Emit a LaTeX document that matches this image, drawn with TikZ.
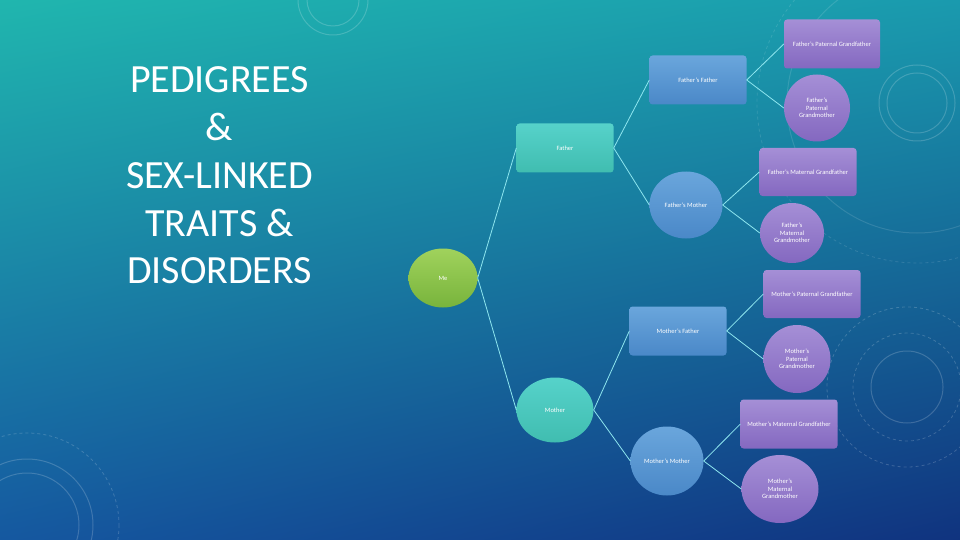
\documentclass[tikz,border=0pt]{standalone}
\usepackage{fontspec}
\setmainfont{Carlito}
\usetikzlibrary{shapes.geometric,shadings}
\definecolor{bgUL}{HTML}{20B6AE}
\definecolor{bgUR}{HTML}{1A9AAE}
\definecolor{bgLL}{HTML}{1558A0}
\definecolor{bgLR}{HTML}{10337F}
\definecolor{pTop}{HTML}{A58FD6}
\definecolor{pBot}{HTML}{8468C0}
\definecolor{bTop}{HTML}{6AA6DC}
\definecolor{bBot}{HTML}{4A88C8}
\definecolor{tTop}{HTML}{56D2CA}
\definecolor{tBot}{HTML}{40BDB0}
\definecolor{gTop}{HTML}{A0D25C}
\definecolor{gBot}{HTML}{78B43C}
\definecolor{linkc}{HTML}{8EE6EF}
\tikzset{
  lbl/.style={text=white, font=\fontsize{6.5}{7.7}\selectfont, align=center, inner sep=0pt},
  boxnode/.style={lbl, rectangle, rounded corners=3pt, minimum width=97pt, minimum height=49pt},
  ellnode/.style={lbl, ellipse},
  purplefill/.style={top color=pTop, bottom color=pBot},
  bluefill/.style={top color=bTop, bottom color=bBot},
  tealfill/.style={top color=tTop, bottom color=tBot},
  greenfill/.style={top color=gTop, bottom color=gBot},
  link/.style={draw=linkc, line width=0.8pt},
  titleline/.style={text=white, font=\fontsize{40}{47.5}\selectfont, anchor=base, inner sep=0pt},
  deco/.style={draw=white, opacity=0.18, line width=1pt},
  decodash/.style={draw=white, opacity=0.18, line width=0.8pt, dash pattern=on 3pt off 3pt}
}
\begin{document}
\begin{tikzpicture}[x=1pt,y=-1pt]
\useasboundingbox (0,0) rectangle (960,540);
\shade[upper left=bgUL, upper right=bgUR, lower left=bgLL, lower right=bgLR] (0,0) rectangle (960,540);
% faint background decorations
\begin{scope}
\clip (0,0) rectangle (960,540);
\draw[deco] (917,103) circle[radius=30];
\draw[deco] (917,103) circle[radius=38];
\draw[deco, opacity=0.12] (917,103) circle[radius=130];
\draw[decodash, opacity=0.12] (917,103) circle[radius=160];
\draw[deco] (907,387) circle[radius=36];
\draw[decodash] (907,387) circle[radius=54];
\draw[decodash] (907,387) circle[radius=80];
\draw[deco] (27,525) circle[radius=52];
\draw[deco] (27,525) circle[radius=66];
\draw[decodash] (27,525) circle[radius=92];
\draw[deco] (333,0) circle[radius=26];
\draw[deco] (333,0) circle[radius=35];
\end{scope}
% title
\node[titleline] (t1) at (219.5,93) {PEDIGREES};
\node[titleline] (t2) at (219.5,141) {\&};
\node[titleline] (t3) at (219.5,188) {SEX-LINKED};
\node[titleline] (t4) at (219.5,236) {TRAITS \&};
\node[titleline] (t5) at (219.5,283) {DISORDERS};
% nodes
\node[ellnode, greenfill, minimum width=69pt, minimum height=59pt] (me) at (443,278) {Me};
\node[boxnode, tealfill] (fa) at (565,148) {Father};
\node[ellnode, tealfill, minimum width=77pt, minimum height=65pt] (mo) at (555,410) {Mother};
\node[boxnode, bluefill] (ff) at (698,80) {Father's Father};
\node[ellnode, bluefill, minimum width=73pt, minimum height=67pt] (fm) at (686,205) {Father's Mother};
\node[boxnode, bluefill] (mf) at (678,331) {Mother's Father};
\node[ellnode, bluefill, minimum width=73pt, minimum height=69pt] (mm) at (667,461) {Mother's Mother};
\node[boxnode, purplefill, minimum width=96pt] (ffgf) at (832,44) {Father's Paternal Grandfather};
\node[ellnode, purplefill, minimum width=66pt, minimum height=67pt] (ffgm) at (817,108) {Father's\\Paternal\\Grandmother};
\node[boxnode, purplefill, minimum height=48pt] (fmgf) at (808,172) {Father's Maternal Grandfather};
\node[ellnode, purplefill, minimum width=64pt, minimum height=60pt] (fmgm) at (792,233) {Father's\\Maternal\\Grandmother};
\node[boxnode, purplefill, minimum height=48pt] (mfgf) at (812,294) {Mother's Paternal Grandfather};
\node[ellnode, purplefill, minimum width=67pt, minimum height=68pt] (mfgm) at (797,359) {Mother's\\Paternal\\Grandmother};
\node[boxnode, purplefill] (mmgf) at (789,424) {Mother's Maternal Grandfather};
\node[ellnode, purplefill, minimum width=77pt, minimum height=68pt] (mmgm) at (780,489) {Mother's\\Maternal\\Grandmother};
% connectors
\draw[link] (me.east) -- (fa.west);
\draw[link] (me.east) -- (mo.west);
\draw[link] (fa.east) -- (ff.west);
\draw[link] (fa.east) -- (fm.west);
\draw[link] (mo.east) -- (mf.west);
\draw[link] (mo.east) -- (mm.west);
\draw[link] (ff.east) -- (ffgf.west);
\draw[link] (ff.east) -- (ffgm.west);
\draw[link] (fm.east) -- (fmgf.west);
\draw[link] (fm.east) -- (fmgm.west);
\draw[link] (mf.east) -- (mfgf.west);
\draw[link] (mf.east) -- (mfgm.west);
\draw[link] (mm.east) -- (mmgf.west);
\draw[link] (mm.east) -- (mmgm.west);
\end{tikzpicture}
\end{document}
